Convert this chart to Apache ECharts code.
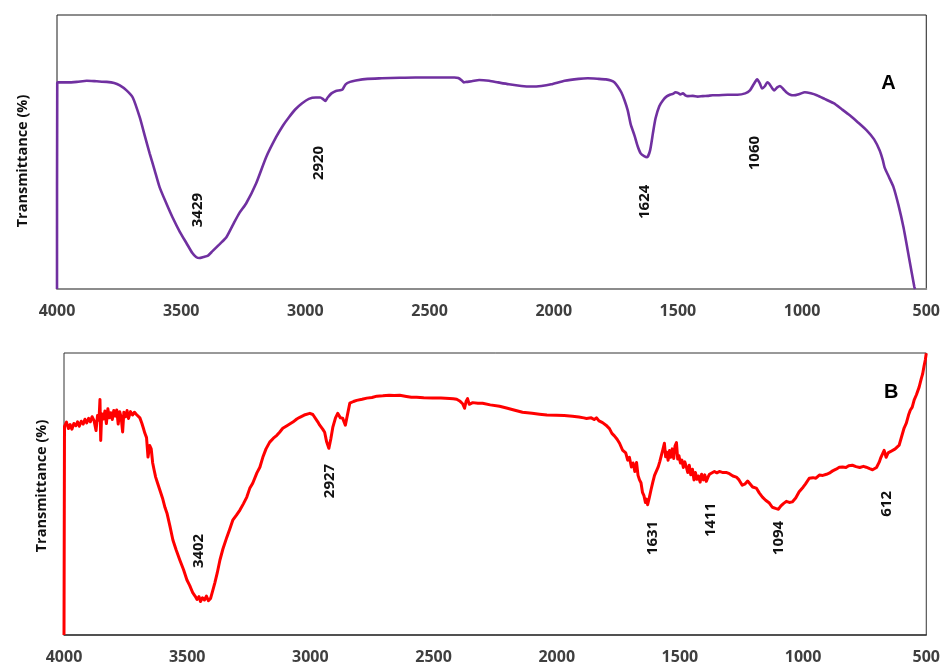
<!DOCTYPE html>
<html>
<head>
<meta charset="utf-8">
<script src="https://cdn.jsdelivr.net/npm/echarts@6/dist/echarts.min.js"></script>
<style>
  html, body { margin: 0; padding: 0; background: #ffffff; }
  #chart { width: 943px; height: 666px; }
</style>
</head>
<body>
<div id="chart"></div>
<script>
// FTIR spectra: wavenumber (cm-1) against relative transmittance (arbitrary %)
const wavenumberTicks = [4000, 3500, 3000, 2500, 2000, 1500, 1000, 500];

// Spectrum A
const waveA = [4000, 3999, 3960, 3920, 3880, 3840, 3800, 3770, 3747, 3720, 3695, 3667, 3647, 3627, 3607, 3587, 3560, 3535, 3505, 3479,
  3455, 3440, 3427, 3410, 3392, 3374, 3345, 3318, 3290, 3266, 3238, 3198, 3158, 3118, 3090, 3066, 3040, 3013, 2986, 2958,
  2940, 2930, 2920, 2910, 2895, 2877, 2860, 2850, 2838, 2820, 2797, 2750, 2693, 2620, 2557, 2470, 2400, 2384, 2370, 2362,
  2350, 2330, 2300, 2260, 2224, 2180, 2130, 2091, 2050, 2010, 1956, 1900, 1863, 1820, 1790, 1770, 1755, 1743, 1728, 1715,
  1702, 1690, 1675, 1662, 1650, 1636, 1624, 1612, 1600, 1590, 1575, 1560, 1545, 1530, 1520, 1510, 1500, 1490, 1480, 1470,
  1460, 1440, 1420, 1400, 1380, 1360, 1342, 1300, 1260, 1229, 1210, 1195, 1181, 1170, 1161, 1150, 1140, 1133, 1120, 1113,
  1100, 1089, 1075, 1061, 1045, 1033, 1010, 989, 965, 941, 910, 873, 840, 808, 775, 740, 710, 688, 675, 668,
  650, 632, 612, 592, 570, 548, 545];
const transA = [0, 75.4, 75.4, 75.6, 76.0, 75.8, 75.6, 75.2, 74.3, 72.5, 69.9, 62.7, 56.1, 49.5, 43.4, 37.2, 31.3, 26.2, 20.8, 16.8,
  13.1, 11.7, 11.3, 11.7, 12.2, 13.8, 16.4, 18.9, 23.7, 27.7, 31.3, 38.6, 48.1, 55.4, 59.7, 62.7, 65.6, 67.8, 69.4, 69.9,
  69.9, 69.4, 68.6, 69.9, 71.4, 72.3, 72.5, 72.9, 74.7, 75.6, 76.1, 76.7, 76.9, 77.1, 77.2, 77.2, 77.2, 77.0, 76.1, 75.4,
  75.6, 75.8, 76.3, 76.0, 75.4, 74.7, 74.1, 73.9, 74.1, 74.7, 76.0, 76.7, 76.9, 76.7, 76.5, 76.1, 75.4, 74.0, 71.8, 68.9,
  65.2, 60.1, 56.1, 52.1, 49.5, 48.5, 48.1, 50.6, 57.2, 62.3, 66.7, 68.9, 70.3, 71.0, 71.2, 71.8, 71.6, 71.0, 71.4, 70.7,
  70.4, 70.5, 70.2, 70.4, 70.5, 70.7, 70.7, 70.9, 70.9, 71.4, 72.5, 74.7, 76.5, 75.0, 73.2, 74.0, 75.4, 75.0, 73.2, 72.5,
  73.6, 74.1, 72.9, 71.6, 70.8, 70.7, 71.2, 71.8, 71.4, 70.7, 69.4, 67.8, 65.6, 63.4, 60.8, 57.9, 54.6, 50.6, 47.0, 44.4,
  40.8, 37.2, 30.6, 22.6, 11.7, 0.7, 0];

// Spectrum B
const waveB = [4000, 3998, 3990, 3982, 3975, 3968, 3960, 3952, 3945, 3938, 3930, 3922, 3915, 3908, 3900, 3893, 3886, 3878, 3870, 3864,
  3858, 3854, 3851, 3847, 3840, 3834, 3828, 3822, 3816, 3810, 3804, 3798, 3792, 3786, 3780, 3774, 3768, 3762, 3757, 3750,
  3744, 3738, 3730, 3722, 3714, 3706, 3700, 3692, 3684, 3678, 3672, 3665, 3659, 3652, 3646, 3640, 3634, 3628, 3620, 3611,
  3600, 3590, 3582, 3570, 3558, 3545, 3530, 3515, 3501, 3490, 3477, 3468, 3460, 3452, 3446, 3438, 3430, 3422, 3414, 3405,
  3396, 3388, 3378, 3367, 3355, 3339, 3327, 3315, 3300, 3286, 3272, 3258, 3246, 3234, 3217, 3205, 3193, 3180, 3165, 3150,
  3136, 3124, 3112, 3095, 3071, 3055, 3043, 3025, 3002, 2990, 2982, 2970, 2962, 2950, 2942, 2934, 2925, 2917, 2909, 2898,
  2889, 2878, 2869, 2858, 2852, 2845, 2840, 2825, 2812, 2790, 2771, 2750, 2730, 2706, 2680, 2660, 2637, 2610, 2590, 2569,
  2540, 2504, 2470, 2435, 2420, 2406, 2394, 2382, 2374, 2368, 2362, 2355, 2341, 2320, 2301, 2270, 2232, 2200, 2170, 2139,
  2100, 2070, 2040, 2001, 1970, 1936, 1910, 1890, 1879, 1860, 1848, 1839, 1828, 1814, 1800, 1786, 1776, 1766, 1755, 1745,
  1733, 1720, 1712, 1705, 1697, 1690, 1683, 1676, 1670, 1664, 1658, 1652, 1646, 1640, 1636, 1631, 1624, 1617, 1610, 1603,
  1595, 1588, 1582, 1575, 1569, 1563, 1558, 1553, 1548, 1542, 1537, 1531, 1525, 1520, 1514, 1509, 1504, 1498, 1492, 1486,
  1480, 1474, 1468, 1462, 1456, 1449, 1443, 1437, 1431, 1425, 1418, 1412, 1405, 1399, 1393, 1386, 1380, 1372, 1360, 1350,
  1340, 1325, 1310, 1299, 1285, 1271, 1260, 1247, 1235, 1225, 1218, 1205, 1190, 1178, 1165, 1152, 1137, 1125, 1112, 1100,
  1090, 1080, 1068, 1056, 1044, 1030, 1016, 1000, 990, 975, 960, 948, 934, 920, 905, 894, 880, 866, 853, 840,
  826, 815, 800, 785, 770, 755, 744, 730, 718, 711, 702, 691, 684, 676, 671, 663, 655, 646, 638, 626,
  618, 610, 600, 590, 581, 572, 565, 557, 549, 540, 529, 520, 515, 509, 504, 500];
const transB = [0, 74.0, 75.5, 73.2, 74.6, 73.0, 75.0, 74.2, 75.6, 74.0, 75.8, 74.8, 76.5, 75.2, 76.8, 75.6, 77.4, 76.0, 72.5, 77.8,
  76.2, 83.5, 69.0, 78.5, 76.6, 79.4, 75.0, 80.2, 77.0, 78.8, 76.4, 79.6, 77.6, 79.8, 74.8, 79.2, 77.2, 72.0, 79.0, 77.4,
  79.6, 76.8, 79.2, 78.0, 79.0, 78.2, 78.4, 77.0, 75.1, 73.4, 71.6, 70.0, 63.1, 67.2, 66.0, 61.0, 58.4, 56.0, 53.8, 51.4,
  48.5, 45.2, 43.2, 38.6, 33.7, 30.2, 26.6, 23.2, 19.5, 17.6, 14.9, 13.8, 12.6, 13.6, 11.9, 13.2, 12.4, 13.8, 12.2, 13.0,
  15.8, 18.4, 22.0, 26.6, 30.5, 34.7, 37.6, 40.7, 42.5, 44.3, 46.5, 48.9, 52.0, 53.8, 57.5, 59.5, 63.0, 66.0, 68.4, 69.8,
  70.8, 72.0, 73.3, 74.2, 75.5, 76.6, 77.2, 78.0, 78.6, 78.2, 77.9, 75.6, 74.4, 73.0, 71.9, 68.5, 66.2, 69.5, 73.6, 77.0,
  78.6, 77.0, 76.9, 74.4, 74.0, 80.0, 82.2, 82.8, 83.2, 83.6, 84.0, 84.2, 84.7, 84.8, 85.0, 84.9, 85.0, 84.6, 84.3, 84.3,
  84.1, 84.0, 84.0, 83.9, 83.8, 83.6, 83.0, 82.0, 80.4, 82.8, 83.8, 81.8, 82.4, 82.2, 82.2, 81.6, 81.1, 80.4, 79.7, 79.0,
  78.6, 78.3, 78.0, 77.9, 77.8, 77.6, 77.3, 77.0, 76.8, 77.0, 76.4, 77.0, 75.9, 75.3, 74.4, 73.2, 71.5, 70.6, 69.4, 68.0,
  65.6, 64.6, 62.0, 63.0, 59.6, 61.0, 58.0, 61.2, 56.6, 55.0, 54.0, 50.6, 49.4, 47.0, 48.2, 46.2, 48.8, 51.6, 54.2, 56.6,
  57.2, 59.6, 61.4, 62.0, 65.8, 68.0, 63.2, 64.8, 62.0, 65.4, 63.0, 66.0, 62.6, 67.0, 68.2, 62.4, 63.6, 61.0, 62.0, 59.4,
  61.4, 59.6, 57.6, 60.2, 56.8, 58.8, 55.0, 57.6, 55.2, 56.4, 54.2, 57.0, 55.0, 56.8, 54.5, 56.0, 57.0, 56.6, 58.0, 57.5,
  58.0, 57.6, 57.6, 57.2, 56.4, 56.0, 55.0, 53.1, 53.6, 54.6, 54.2, 52.5, 52.1, 50.4, 48.9, 47.8, 46.8, 45.3, 44.9, 44.6,
  45.8, 46.6, 47.4, 47.0, 47.2, 48.6, 50.8, 52.4, 53.6, 55.6, 55.8, 55.6, 56.7, 56.6, 57.0, 57.4, 58.2, 58.8, 59.5, 59.6,
  59.4, 60.0, 60.2, 59.7, 59.4, 59.8, 59.5, 59.0, 58.6, 58.4, 59.4, 61.3, 63.0, 62.4, 65.5, 63.0, 64.6, 65.0, 65.5, 66.0,
  66.6, 67.3, 70.4, 73.4, 75.1, 78.0, 79.7, 80.8, 83.4, 85.2, 87.9, 91.0, 92.5, 95.4, 97.5, 99.9];

// Peak assignments written beside each band
const peakLabelsA = ['3429', '2920', '1624', '1060'];
const peakLabelsB = ['3402', '2927', '1631', '1411', '1094', '612'];
const panelNames = ['A', 'B'];
const yTitle = 'Transmittance (%)';

const toPairs = (xs, ys) => xs.map((x, i) => [x, ys[i]]);

const tickFont = {
  fontFamily: '"Open Sans", "Liberation Sans", sans-serif',
  fontWeight: 'bold', fontSize: 16, color: '#3f3f3f'
};

function makeXAxis(gridIndex, lineColor, lineWidth) {
  return {
    type: 'value', gridIndex: gridIndex, inverse: true,
    min: 500, max: 4000, interval: 500,
    axisLine: { show: true, lineStyle: { color: lineColor, width: lineWidth } },
    axisTick: { show: false },
    splitLine: { show: false },
    axisLabel: Object.assign({ margin: 14, formatter: v => wavenumberTicks.includes(v) ? String(v) : '' }, tickFont)
  };
}
function makeYAxis(gridIndex) {
  return {
    type: 'value', gridIndex: gridIndex, min: 0, max: 100,
    axisLine: { show: false }, axisTick: { show: false },
    axisLabel: { show: false }, splitLine: { show: false }
  };
}

const option = {
  animation: false,
  backgroundColor: '#ffffff',
  grid: [
    { left: 57, top: 15, width: 873, height: 274, show: true, borderColor: '#1a1a1a', borderWidth: 1 },
    { left: 64, top: 353, width: 863, height: 282, show: true, borderColor: '#333333', borderWidth: 1 }
  ],
  xAxis: [makeXAxis(0, '#8c8c8c', 2), makeXAxis(1, '#3a3a3a', 1.5)],
  yAxis: [makeYAxis(0), makeYAxis(1)],
  series: [
    {
      type: 'line', xAxisIndex: 0, yAxisIndex: 0,
      data: toPairs(waveA, transA), showSymbol: false, smooth: 0.2,
      lineStyle: { color: '#7030a0', width: 2.6 }
    },
    {
      type: 'line', xAxisIndex: 1, yAxisIndex: 1,
      data: toPairs(waveB, transB), showSymbol: false, smooth: false,
      lineStyle: { color: '#ff0000', width: 3, join: 'round' }
    }
  ]
};

const chart = echarts.init(document.getElementById('chart'), null, { renderer: 'canvas' });
chart.setOption(option);

// Anchor points (wavenumber, transmittance) where each band label is centred
const anchorsA = [[3435, 28.8], [2946, 46.0], [1635, 31.8], [1190, 49.6]];
const anchorsB = [[3452, 29.8], [2921, 54.6], [1611, 34.4], [1376, 40.8], [1100, 34.4], [662, 46.5]];

const peakFont = 'bold 15px "Open Sans", "Liberation Sans", sans-serif';
const graphics = [];
function addPeakLabels(gridIndex, labels, anchors) {
  labels.forEach((txt, i) => {
    const p = chart.convertToPixel({ xAxisIndex: gridIndex, yAxisIndex: gridIndex }, anchors[i]);
    graphics.push({
      type: 'text', x: p[0], y: p[1], rotation: Math.PI / 2,
      style: { text: txt, font: peakFont, fill: '#111111', align: 'center', verticalAlign: 'middle' }
    });
  });
}
addPeakLabels(0, peakLabelsA, anchorsA);
addPeakLabels(1, peakLabelsB, anchorsB);

// Panel letters
const letterPos = [[4000 - (889 - 57) / 0.24943, 75.0], [4000 - (889 - 64) / 0.24657, 86.0]];
panelNames.forEach((name, g) => {
  const p = chart.convertToPixel({ xAxisIndex: g, yAxisIndex: g }, letterPos[g]);
  graphics.push({
    type: 'text', x: p[0] + 3, y: p[1],
    style: { text: name, font: 'bold 20px "Liberation Sans", Arial, sans-serif', fill: '#000000', align: 'center', verticalAlign: 'middle' }
  });
});

// Vertical axis titles
[[23, 161], [42, 486]].forEach(pos => {
  graphics.push({
    type: 'text', x: pos[0], y: pos[1], rotation: Math.PI / 2,
    style: { text: yTitle, font: 'bold 14.5px "Open Sans", "Liberation Sans", sans-serif', fill: '#111111', align: 'center', verticalAlign: 'middle' }
  });
});

chart.setOption({ graphic: graphics });
</script>
</body>
</html>
